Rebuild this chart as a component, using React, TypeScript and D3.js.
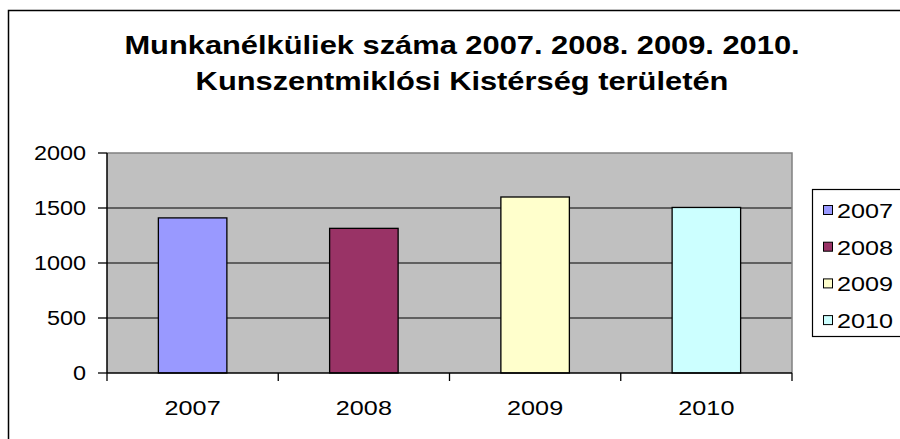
import React from "react";
import * as d3 from "d3";

const categories = ["2007", "2008", "2009", "2010"];
const values = [1410, 1315, 1600, 1505];
const colors = ["#9999FF", "#993366", "#FFFFCC", "#CCFFFF"];
const yTicks = [0, 500, 1000, 1500, 2000];
const titleLines = [
  "Munkanélküliek száma 2007. 2008. 2009. 2010.",
  "Kunszentmiklósi Kistérség területén",
];

const W = 900;
const H = 439;
const SX = 1.2;
const FONT = "Arial, 'Liberation Sans', sans-serif";

const plot = { left: 107, right: 792, top: 153, bottom: 373 };

function SText(props: {
  x: number;
  y: number;
  size: number;
  anchor?: string;
  weight?: string | number;
  children: React.ReactNode;
}) {
  const { x, y, size, anchor = "start", weight = "normal", children } = props;
  return (
    <text
      transform={`translate(${x},${y}) scale(${SX},1)`}
      fontFamily={FONT}
      fontSize={size}
      fontWeight={weight}
      textAnchor={anchor}
      fill="#000"
    >
      {children}
    </text>
  );
}

export default function App() {
  const x = d3
    .scaleBand<string>()
    .domain(categories)
    .range([plot.left, plot.right])
    .paddingInner(0.6)
    .paddingOuter(0.3);
  const y = d3.scaleLinear().domain([0, 2000]).range([plot.bottom, plot.top]);
  const step = x.step();
  const boundaries = d3.range(categories.length + 1).map((i) => plot.left + i * step);

  return (
    <svg
      width={W}
      height={H}
      style={{ position: "absolute", left: 0, top: 0, display: "block" }}
    >
      <rect x={0} y={0} width={W} height={H} fill="#fff" />
      {/* outer chart border, extends beyond the view */}
      <rect x={8.5} y={10.5} width={1000} height={1000} fill="none" stroke="#000" strokeWidth={1.5} />

      {/* title */}
      {titleLines.map((t, i) => (
        <SText key={i} x={462} y={54 + i * 35.5} size={25.7} anchor="middle" weight="bold">
          {t}
        </SText>
      ))}

      {/* plot area */}
      <rect
        x={plot.left}
        y={plot.top}
        width={plot.right - plot.left}
        height={plot.bottom - plot.top}
        fill="#C0C0C0"
      />
      {/* gridlines */}
      {yTicks
        .filter((t) => t > 0 && t < 2000)
        .map((t) => (
          <line key={t} x1={plot.left} x2={plot.right} y1={y(t)} y2={y(t)} stroke="#000" strokeWidth={1} />
        ))}
      {/* top/right border gray */}
      <polyline
        points={`${plot.left},${plot.top} ${plot.right},${plot.top} ${plot.right},${plot.bottom}`}
        fill="none"
        stroke="#808080"
        strokeWidth={1.5}
      />

      {/* bars */}
      {categories.map((c, i) => (
        <rect
          key={c}
          x={x(c)!}
          y={y(values[i])}
          width={x.bandwidth()}
          height={y(0) - y(values[i])}
          fill={colors[i]}
          stroke="#000"
          strokeWidth={1.3}
        />
      ))}

      {/* y axis */}
      <line x1={plot.left} x2={plot.left} y1={plot.top} y2={plot.bottom} stroke="#000" strokeWidth={1.5} />
      {yTicks.map((t) => (
        <g key={t}>
          <line x1={plot.left - 9} x2={plot.left} y1={y(t)} y2={y(t)} stroke="#000" strokeWidth={1.3} />
          <SText x={86} y={y(t) + 7} size={19.5} anchor="end">
            {t}
          </SText>
        </g>
      ))}

      {/* x axis */}
      <line x1={plot.left} x2={plot.right} y1={plot.bottom} y2={plot.bottom} stroke="#000" strokeWidth={1.5} />
      {boundaries.map((b, i) => (
        <line key={i} x1={b} x2={b} y1={plot.bottom} y2={plot.bottom + 8} stroke="#000" strokeWidth={1.3} />
      ))}
      {categories.map((c) => (
        <SText key={c} x={x(c)! + x.bandwidth() / 2} y={415} size={21} anchor="middle">
          {c}
        </SText>
      ))}

      {/* legend */}
      <rect x={812.5} y={189.5} width={120} height={147} fill="#fff" stroke="#000" strokeWidth={1.2} />
      {categories.map((c, i) => {
        const cy = 210 + i * 36.7;
        return (
          <g key={c}>
            <rect x={823.5} y={cy - 4.5} width={9} height={9} fill={colors[i]} stroke="#000" strokeWidth={1} />
            <SText x={837} y={cy + 8} size={21}>
              {c}
            </SText>
          </g>
        );
      })}
    </svg>
  );
}
